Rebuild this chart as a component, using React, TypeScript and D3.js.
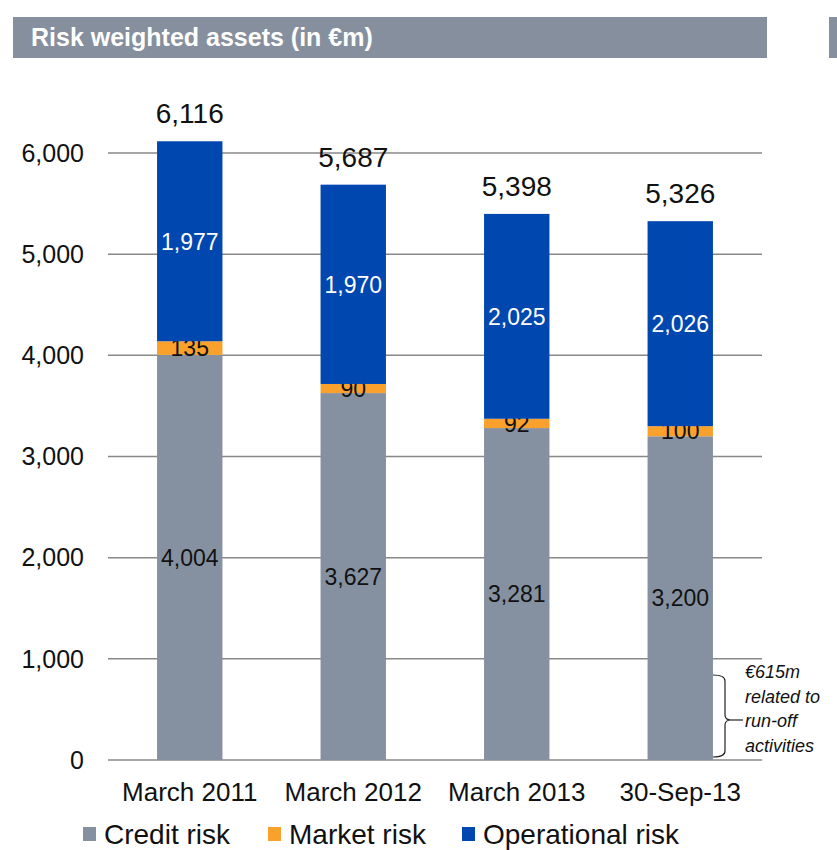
import * as d3 from "d3";

const categories = ["March 2011", "March 2012", "March 2013", "30-Sep-13"];
const creditRisk = [4004, 3627, 3281, 3200];
const marketRisk = [135, 90, 92, 100];
const operationalRisk = [1977, 1970, 2025, 2026];
const totals = [6116, 5687, 5398, 5326];
const yTicks = [0, 1000, 2000, 3000, 4000, 5000, 6000];
const seriesNames = ["Credit risk", "Market risk", "Operational risk"];
const noteLines = ["€615m", "related to", "run-off", "activities"];

const colors = ["#8591a1", "#f9a12c", "#0047b0"];
const labelColors = ["#111", "#111", "#fff"];

export default function App() {
  const width = 837;
  const height = 850;
  const font = "'Liberation Sans', Arial, sans-serif";

  const x = d3.scaleBand<string>()
    .domain(categories)
    .range([108, 762])
    .paddingInner(0.6)
    .paddingOuter(0.3);

  const y = d3.scaleLinear().domain([0, 6000]).range([760, 153]);
  const fmt = d3.format(",");

  const rows = categories.map((c, i) => ({
    cat: c,
    credit: creditRisk[i],
    market: marketRisk[i],
    operational: operationalRisk[i],
  }));
  const stack = d3.stack<any>().keys(["credit", "market", "operational"])(rows);

  // bracket for the run-off note
  const bx = 713;
  const bTop = 675;
  const bBot = 757;
  const bMid = 720;
  const bracket = `M${bx},${bTop} q12,0 12,6 L${bx + 12},${bMid - 5} q0,5 6,5 q-6,0 -6,5 L${bx + 12},${bBot - 6} q0,6 -12,6`;

  return (
    <div style={{ position: "absolute", left: 0, top: 0, width, height, overflow: "hidden" }}>
      <svg width={width} height={height} style={{ display: "block" }} fontFamily={font}>
        <rect x={0} y={0} width={width} height={height} fill="#fff" />
        {/* header */}
        <rect x={13} y={17} width={754} height={41} fill="#858f9e" />
        <rect x={829} y={17} width={10} height={41} fill="#858f9e" />
        <text x={31} y={46} fill="#fff" fontSize={25} fontWeight="bold">Risk weighted assets (in €m)</text>

        {/* gridlines */}
        {yTicks.map(t => (
          <g key={t}>
            <line x1={108} x2={762} y1={y(t)} y2={y(t)} stroke="#888" strokeWidth={1.5} />
            <text x={84} y={y(t)} dy="0.35em" textAnchor="end" fontSize={25} fill="#111">{fmt(t)}</text>
          </g>
        ))}

        {/* bars */}
        {stack.map((s, si) => (
          <g key={s.key}>
            {s.map((d, i) => {
              const x0 = x(categories[i])!;
              const top = y(d[1]);
              const bot = y(d[0]);
              return (
                <g key={i}>
                  <rect x={x0} y={top} width={x.bandwidth()} height={bot - top} fill={colors[si]} />
                  <text x={x0 + x.bandwidth() / 2} y={(top + bot) / 2} dy="0.36em" textAnchor="middle"
                    fontSize={23} fill={labelColors[si]}>{fmt(d[1] - d[0])}</text>
                </g>
              );
            })}
          </g>
        ))}

        {/* totals */}
        {totals.map((t, i) => (
          <text key={i} x={x(categories[i])! + x.bandwidth() / 2} y={y(t) - 18} textAnchor="middle"
            fontSize={28} fill="#111">{fmt(t)}</text>
        ))}

        {/* x labels */}
        {categories.map(c => (
          <text key={c} x={x(c)! + x.bandwidth() / 2} y={801} textAnchor="middle" fontSize={26} fill="#111">{c}</text>
        ))}

        {/* note */}
        <path d={bracket} fill="none" stroke="#222" strokeWidth={1.2} />
        <line x1={bx + 18} x2={bx + 30} y1={bMid} y2={bMid} stroke="#222" strokeWidth={1.2} />
        {noteLines.map((l, i) => (
          <text key={l} x={745} y={678 + i * 24.7} fontSize={18} fontStyle="italic" fill="#111">{l}</text>
        ))}

        {/* legend */}
        {seriesNames.map((n, i) => {
          const lx = [83, 268, 462][i];
          return (
            <g key={n}>
              <rect x={lx} y={827} width={13} height={14} fill={colors[i]} />
              <text x={lx + 21} y={844} fontSize={28} fill="#111">{n}</text>
            </g>
          );
        })}
      </svg>
    </div>
  );
}
